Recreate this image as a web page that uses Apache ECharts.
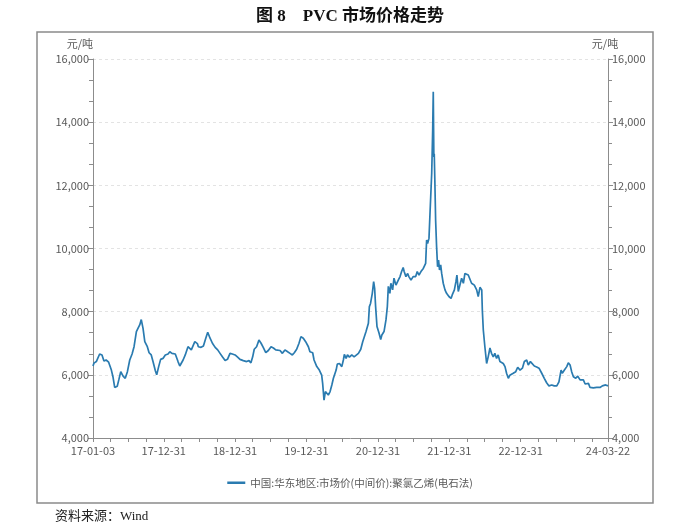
<!DOCTYPE html>
<html><head><meta charset="utf-8">
<script src="https://cdn.jsdelivr.net/npm/echarts@6/dist/echarts.min.js"></script>
<style>html,body{margin:0;padding:0;background:#fff}#c{width:700px;height:525px}</style>
</head><body><div id="c"></div>
<script>
const titleText = '图 8　PVC 市场价格走势';
const seriesName = '中国:华东地区:市场价(中间价):聚氯乙烯(电石法)';
const sourceText = '资料来源：Wind';
const unitLabel = '元/吨';
const dates = [
'2017-01-03','2017-01-08','2017-01-20','2017-02-06','2017-02-18','2017-02-28','2017-03-11','2017-03-24','2017-04-07','2017-04-15','2017-04-24','2017-05-07','2017-05-15','2017-05-25','2017-06-06','2017-06-17','2017-06-28','2017-07-10','2017-07-22','2017-08-01','2017-08-13','2017-08-21','2017-08-30','2017-09-07','2017-09-16','2017-09-25','2017-10-08','2017-10-17','2017-10-28','2017-11-06','2017-11-18','2017-11-25','2017-12-05','2017-12-15','2017-12-27',
'2018-01-08','2018-01-22','2018-01-31','2018-02-11','2018-02-28','2018-03-14','2018-03-23','2018-04-09','2018-04-20','2018-05-04','2018-05-21','2018-06-08','2018-06-21','2018-06-26','2018-07-10','2018-07-22','2018-08-03','2018-08-13','2018-08-25','2018-09-06','2018-09-20','2018-10-03','2018-10-15','2018-10-27','2018-11-10','2018-11-22','2018-12-05','2018-12-17','2018-12-31',
'2019-01-13','2019-01-25','2019-02-11','2019-02-28','2019-03-12','2019-03-22','2019-03-31','2019-04-08','2019-04-20','2019-05-02','2019-05-13','2019-05-24','2019-06-06','2019-06-19','2019-07-03','2019-07-15','2019-07-27','2019-08-06','2019-08-18','2019-08-30','2019-09-12','2019-09-26','2019-10-08','2019-10-20','2019-10-30','2019-11-11','2019-11-23','2019-12-03','2019-12-15','2019-12-27',
'2020-01-10','2020-01-18','2020-02-01','2020-02-08','2020-02-22','2020-03-06','2020-03-18','2020-03-23','2020-03-30','2020-04-06','2020-04-13','2020-04-21','2020-04-30','2020-05-09','2020-05-17','2020-05-31','2020-06-06','2020-06-17','2020-06-29','2020-07-07','2020-07-12','2020-07-21','2020-07-28','2020-08-07','2020-08-19','2020-08-31','2020-09-10','2020-09-22','2020-10-04','2020-10-14','2020-10-21','2020-10-31','2020-11-12','2020-11-17','2020-11-23','2020-12-02','2020-12-09','2020-12-14','2020-12-19','2020-12-26',
'2021-01-05','2021-01-14','2021-01-20','2021-01-31','2021-02-10','2021-02-17','2021-02-22','2021-03-02','2021-03-07','2021-03-16','2021-03-23','2021-04-02','2021-04-14','2021-04-23','2021-05-01','2021-05-09','2021-05-14','2021-05-23','2021-06-01','2021-06-07','2021-06-18','2021-06-29','2021-07-12','2021-07-20','2021-07-29','2021-08-08','2021-08-20','2021-09-01','2021-09-06','2021-09-11','2021-09-18','2021-09-24','2021-10-02','2021-10-07','2021-10-10','2021-10-13','2021-10-15','2021-10-18','2021-10-22','2021-10-27','2021-11-01','2021-11-06','2021-11-11','2021-11-17','2021-11-22','2021-11-30','2021-12-09','2021-12-17','2021-12-29',
'2022-01-09','2022-01-15','2022-01-26','2022-02-03','2022-02-08','2022-02-15','2022-02-24','2022-03-04','2022-03-13','2022-03-21','2022-03-30','2022-04-07','2022-04-16','2022-04-24','2022-05-08','2022-05-20','2022-05-28','2022-06-06','2022-06-15','2022-06-18','2022-06-23','2022-07-01','2022-07-10','2022-07-18','2022-07-27','2022-08-04','2022-08-13','2022-08-21','2022-08-30','2022-09-07','2022-09-16','2022-09-25','2022-10-03','2022-10-12','2022-10-20','2022-10-29','2022-11-06','2022-11-15','2022-11-23','2022-12-06','2022-12-16','2022-12-28',
'2023-01-09','2023-01-19','2023-01-31','2023-02-08','2023-02-19','2023-03-01','2023-03-11','2023-03-23','2023-04-04','2023-04-18','2023-05-01','2023-05-13','2023-05-25','2023-06-08','2023-06-21','2023-07-04','2023-07-15','2023-07-26','2023-08-01','2023-08-12','2023-08-24','2023-09-01','2023-09-10','2023-09-18','2023-09-27','2023-10-09','2023-10-19','2023-10-31','2023-11-09','2023-11-17','2023-11-26','2023-12-04','2023-12-13','2023-12-21',
'2024-01-07','2024-01-24','2024-02-10','2024-02-22','2024-03-03','2024-03-10','2024-03-15','2024-03-22'
];
const prices = [
6280,6370,6420,6660,6630,6440,6470,6400,6150,5940,5600,5640,5840,6100,5960,5890,6100,6470,6660,6890,7370,7470,7580,7750,7470,7050,6890,6700,6630,6420,6130,6000,6260,6490,6520,
6630,6660,6730,6680,6660,6420,6280,6470,6630,6890,6790,7050,6990,6890,6870,6910,7160,7350,7160,7000,6870,6790,6680,6570,6450,6490,6680,6660,6630,
6560,6490,6450,6420,6450,6380,6570,6810,6890,7100,7000,6870,6700,6770,6890,6850,6790,6730,6770,6680,6790,6730,6680,6630,6700,6810,7000,7210,7160,7050,
6890,6730,6700,6470,6260,6150,5990,5730,5200,5470,5520,5360,5470,5680,5890,6150,6340,6360,6260,6470,6650,6520,6630,6560,6630,6570,6630,6680,6810,7050,7000,7370,7630,8160,8260,8580,8950,8740,8160,7530,
7330,7120,7260,7370,7740,8160,8800,8580,8900,8690,9060,8840,9000,9110,9270,9400,9270,9110,9210,9110,9000,9110,9110,9270,9160,9270,9370,9530,10270,10160,10320,11220,12380,13750,14960,12900,13000,12170,10900,10060,9420,9630,9320,9480,9210,8900,8690,8580,8480,
8420,8530,8690,8950,9160,8640,8690,9060,8900,9210,9270,9160,9110,8900,8840,8690,8480,8770,8690,8050,7420,6890,6360,6570,6850,6680,6570,6680,6520,6630,6420,6470,6360,6260,6050,5890,5990,5960,6050,6100,6240,6150,
6210,6420,6470,6310,6420,6360,6280,6250,6210,6050,5890,5750,5650,5680,5650,5650,5780,6150,6050,6150,6260,6380,6310,6100,5940,5890,5960,5840,5780,5840,5710,5650,5730,5600,
5590,5600,5600,5650,5600,5680,5620,5650
];
const labelDates = ['2017-01-03','2017-12-31','2018-12-31','2019-12-31','2020-12-31','2021-12-31','2022-12-31','2024-03-22'];
const tickDates = ['2017-01-03','2017-03-31','2017-06-30','2017-09-30','2017-12-31','2018-03-31','2018-06-30','2018-09-30','2018-12-31','2019-03-31','2019-06-30','2019-09-30','2019-12-31','2020-03-31','2020-06-30','2020-09-30','2020-12-31','2021-03-31','2021-06-30','2021-09-30','2021-12-31','2022-03-31','2022-06-30','2022-09-30','2022-12-31','2023-03-31','2023-06-30','2023-09-30','2023-12-31','2024-03-22'];
const yMin = 4000, yMax = 16000, yStep = 2000;

const ts = s => echarts.time.parse(s).getTime();
const chart = echarts.init(document.getElementById('c'), null, {renderer: 'canvas'});
const fmtNum = v => v.toLocaleString('en-US');
const axisGray = '#8c8c8c';
const labelColor = '#595959';
const font = '"Noto Sans CJK SC", "Noto Sans", sans-serif';
function yAxisCfg(pos) {
  return {
    type: 'value', position: pos, min: yMin, max: yMax, interval: yStep,
    name: unitLabel, nameLocation: 'end', nameGap: 10,
    nameTextStyle: {color: labelColor, fontSize: 11, fontFamily: font, align: pos === 'left' ? 'right' : 'center', padding: pos === 'left' ? [0, 0, 0, 0] : [0, 6, 0, 0]},
    axisLine: {show: true, lineStyle: {color: axisGray, width: 1}},
    axisTick: {show: true, inside: false, length: 5, lineStyle: {color: axisGray}},
    minorTick: {show: true, splitNumber: 3, length: 4, lineStyle: {color: axisGray}},
    axisLabel: {color: labelColor, fontSize: 11, fontFamily: font, margin: 4, formatter: fmtNum},
    splitLine: {show: pos === 'left', lineStyle: {color: '#e3e3e3', type: [3, 3], width: 1}},
    minorSplitLine: {show: false}
  };
}
chart.setOption({
  backgroundColor: '#fff',
  animation: false,
  title: {text: titleText, left: 'center', top: 3, textStyle: {fontSize: 17, fontWeight: 'bold', color: '#111', fontFamily: '"Liberation Serif", "Noto Sans CJK SC", serif'}},
  grid: {left: 93, right: 92, top: 59, bottom: 87, containLabel: false},
  legend: {
    data: [seriesName], bottom: 32, left: 'center', icon: 'rect', itemWidth: 18, itemHeight: 2.5,
    textStyle: {color: labelColor, fontSize: 10.5, fontFamily: font}
  },
  xAxis: {
    type: 'value', min: ts(dates[0]), max: ts(dates[dates.length - 1]),
    axisLine: {show: true, onZero: false, lineStyle: {color: axisGray}},
    axisTick: {show: true, length: 4, lineStyle: {color: axisGray}, customValues: tickDates.map(ts)},
    axisLabel: {color: labelColor, fontSize: 11, fontFamily: font, margin: 7, customValues: labelDates.map(ts),
      formatter: v => echarts.time.format(v, '{yy}-{MM}-{dd}', false)},
    splitLine: {show: false}
  },
  yAxis: [yAxisCfg('left'), yAxisCfg('right')],
  series: [{
    name: seriesName, type: 'line', showSymbol: false, symbol: 'none',
    data: dates.map((d, i) => [ts(d), prices[i]]),
    lineStyle: {color: '#2a7bb0', width: 1.7}, itemStyle: {color: '#2a7bb0'}
  }],
  graphic: [
    {type: 'rect', shape: {x: 37, y: 32, width: 616, height: 471}, style: {fill: 'none', stroke: '#8a8a8a', lineWidth: 1.5}, silent: true},
    {type: 'text', left: 55, top: 510, style: {text: sourceText, fontSize: 13, fill: '#222', fontFamily: '"Liberation Serif", "Noto Sans CJK SC", serif'}}
  ]
});
</script></body></html>
